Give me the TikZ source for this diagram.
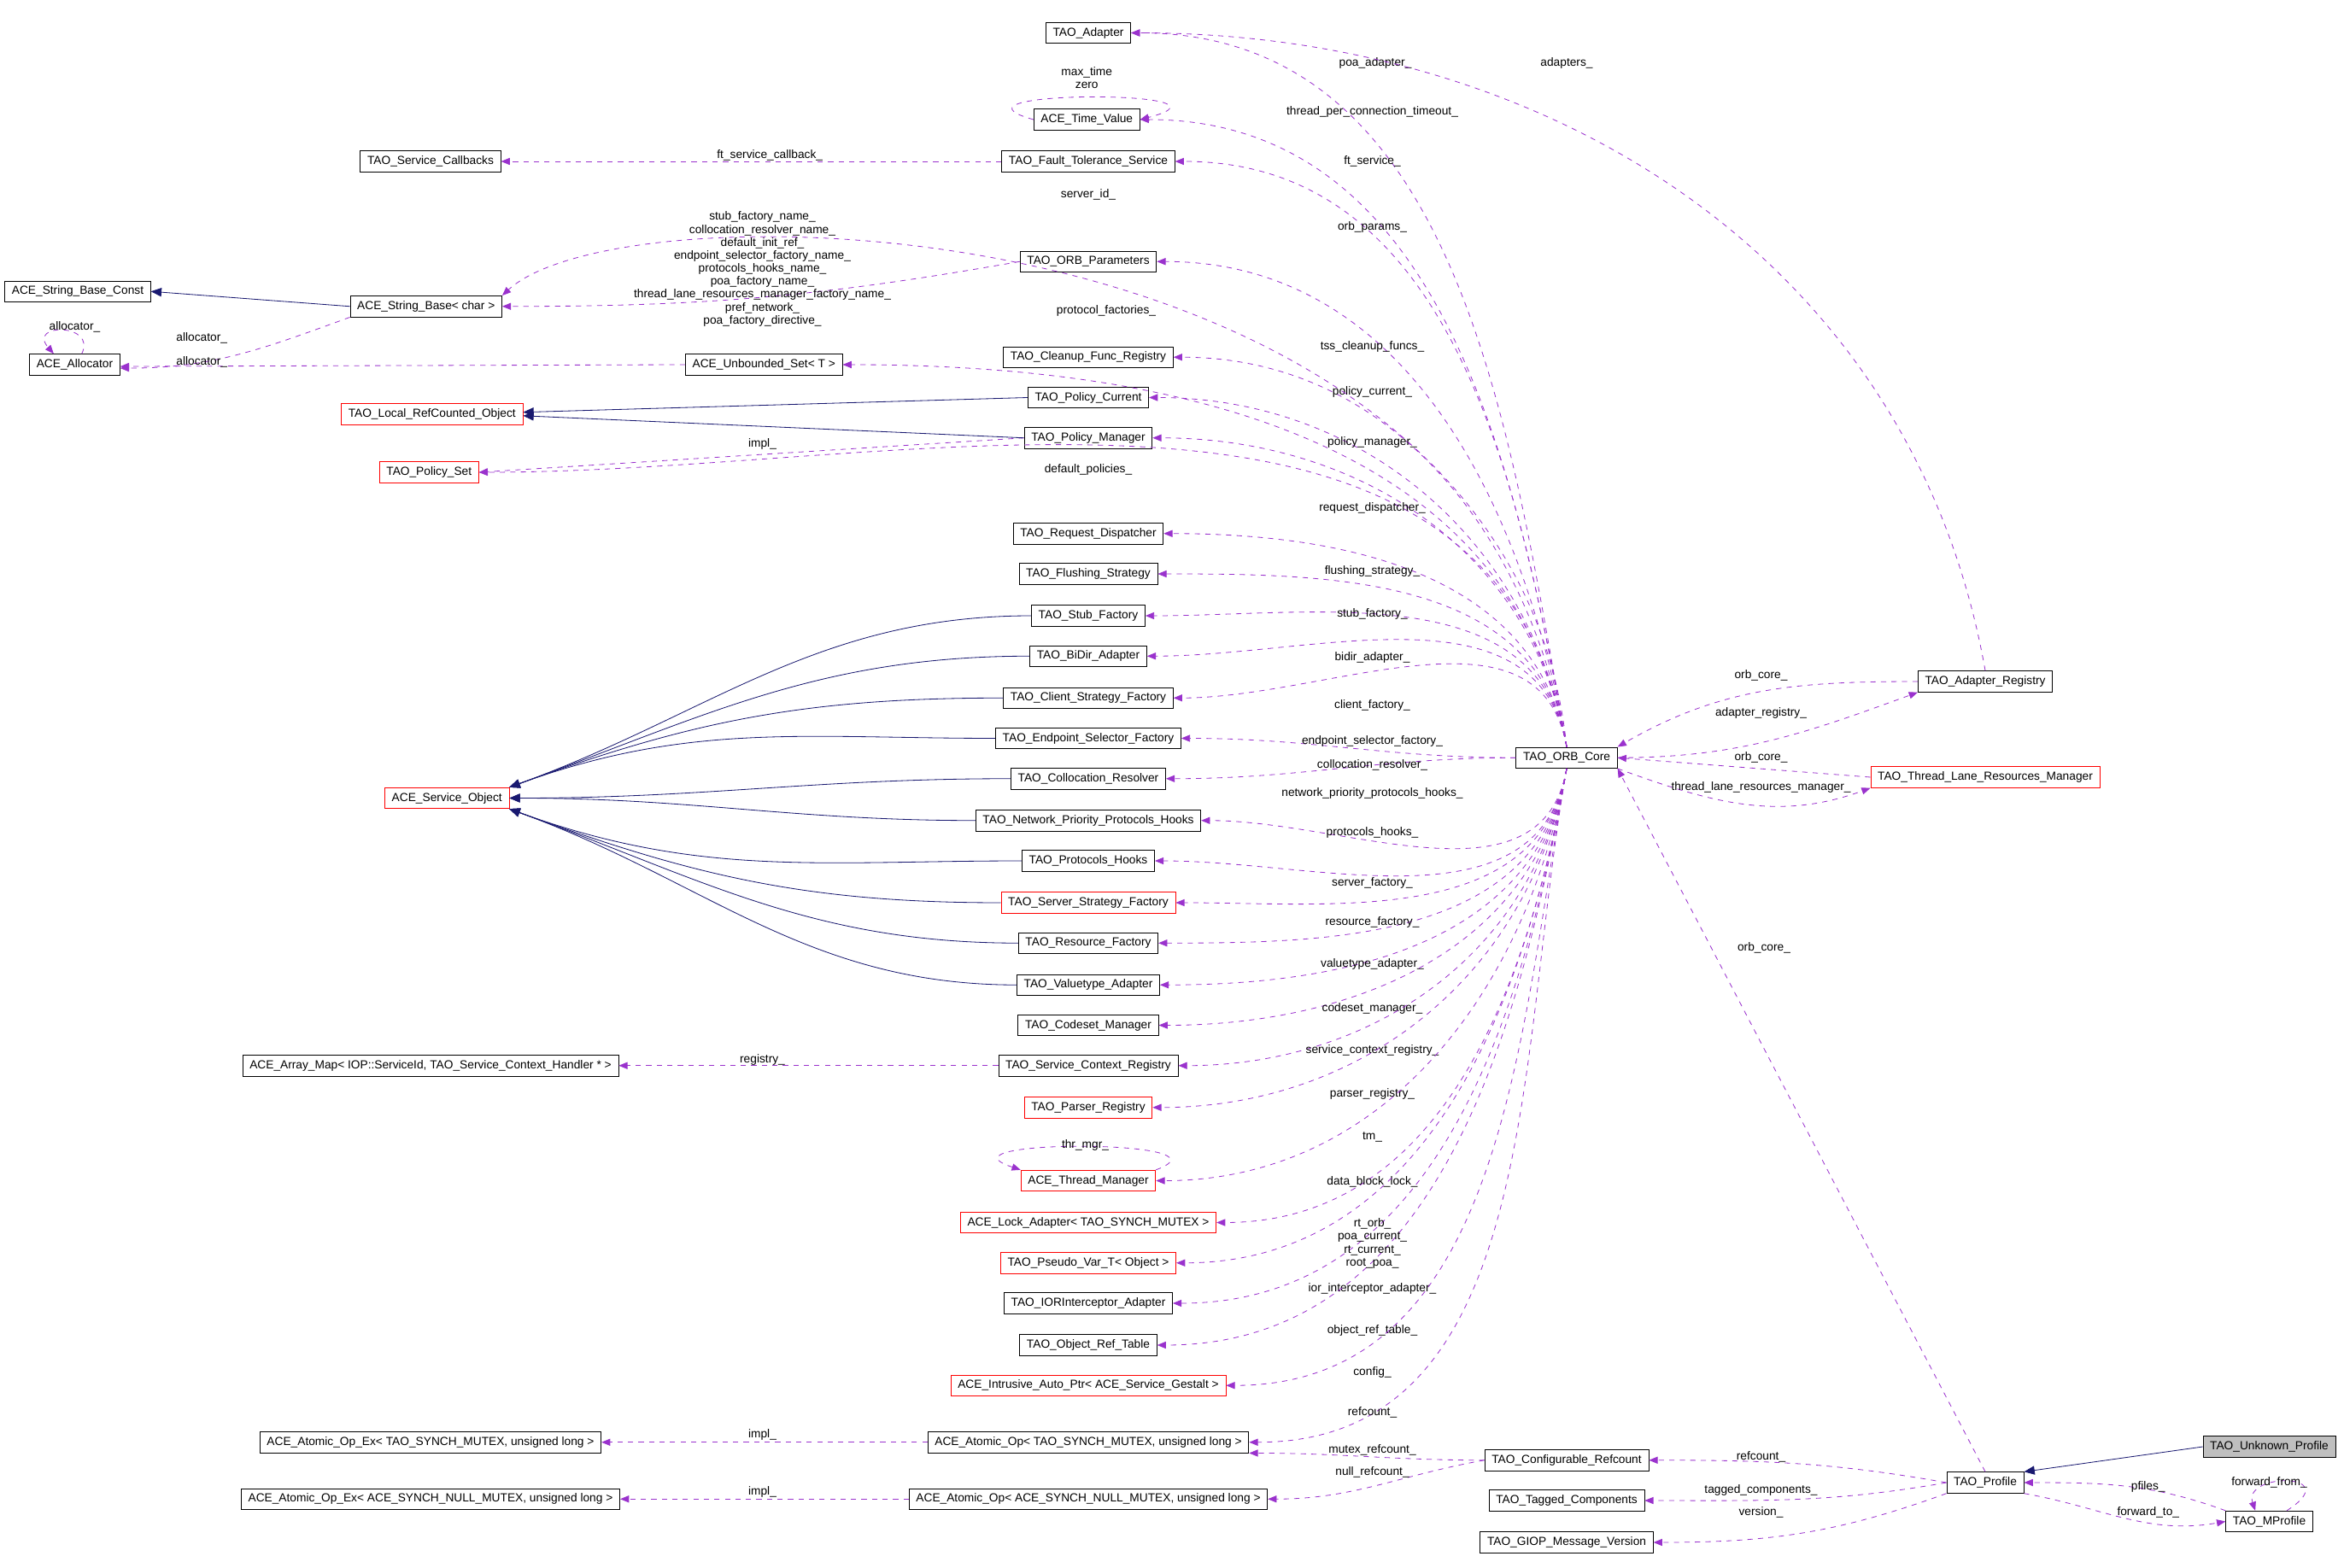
\documentclass[tikz,border=0pt]{standalone}
\usepackage{fontspec}
\setmainfont{Liberation Sans}
\usetikzlibrary{arrows.meta}
\definecolor{collpurple}{HTML}{9A32CD}
\definecolor{inhnavy}{HTML}{191970}
\catcode`\_=12
\tikzset{
	cls/.style={draw, font=\fontsize{6.7}{8}\selectfont, inner xsep=4pt, inner ysep=1pt, minimum height=12pt},
	redcls/.style={cls, draw=red},
	curcls/.style={cls, fill=black!25},
	lbl/.style={font=\fontsize{6.7}{7.4}\selectfont, inner sep=0.5pt, align=center},
	coll/.style={collpurple, dashed, -{Triangle[length=5pt,width=4pt]}},
	inh/.style={inhnavy, -{Triangle[length=6pt,width=5pt]}},
}
\begin{document}
\begin{tikzpicture}[x=0.03cm, y=-0.03cm]
\useasboundingbox (0,0) rectangle (1568,1049);
% classes
\node[cls] (adapter) at (728,22) {TAO_Adapter};
\node[cls] (tv) at (727,80) {ACE_Time_Value};
\node[cls] (sc) at (288,108) {TAO_Service_Callbacks};
\node[cls] (ft) at (728,108) {TAO_Fault_Tolerance_Service};
\node[cls] (op) at (728,175) {TAO_ORB_Parameters};
\node[cls] (sbc) at (52,195) {ACE_String_Base_Const};
\node[cls] (sb) at (285,205) {ACE_String_Base< char >};
\node[cls] (alloc) at (50,244) {ACE_Allocator};
\node[cls] (us) at (511,244) {ACE_Unbounded_Set< T >};
\node[cls] (cfr) at (728,239) {TAO_Cleanup_Func_Registry};
\node[redcls] (lrc) at (289,277) {TAO_Local_RefCounted_Object};
\node[cls] (pc) at (728,266) {TAO_Policy_Current};
\node[cls] (pm) at (728,293) {TAO_Policy_Manager};
\node[redcls] (ps) at (287,316) {TAO_Policy_Set};
\node[cls] (rd) at (728,357) {TAO_Request_Dispatcher};
\node[cls] (fs) at (728,384) {TAO_Flushing_Strategy};
\node[cls] (stub) at (728,412) {TAO_Stub_Factory};
\node[cls] (bidir) at (728,439) {TAO_BiDir_Adapter};
\node[cls] (csf) at (728,467) {TAO_Client_Strategy_Factory};
\node[cls] (esf) at (728,494) {TAO_Endpoint_Selector_Factory};
\node[redcls] (so) at (299,534) {ACE_Service_Object};
\node[cls] (cres) at (728,521) {TAO_Collocation_Resolver};
\node[cls] (nph) at (728,549) {TAO_Network_Priority_Protocols_Hooks};
\node[cls] (ph) at (728,576) {TAO_Protocols_Hooks};
\node[redcls] (ssf) at (728,604) {TAO_Server_Strategy_Factory};
\node[cls] (rf) at (728,631) {TAO_Resource_Factory};
\node[cls] (va) at (728,659) {TAO_Valuetype_Adapter};
\node[cls] (cm) at (728,686) {TAO_Codeset_Manager};
\node[cls] (am) at (288,713) {ACE_Array_Map< IOP::ServiceId, TAO_Service_Context_Handler * >};
\node[cls] (scr) at (728,713) {TAO_Service_Context_Registry};
\node[redcls] (preg) at (728,741) {TAO_Parser_Registry};
\node[redcls] (tman) at (728,790) {ACE_Thread_Manager};
\node[redcls] (la) at (728,818) {ACE_Lock_Adapter< TAO_SYNCH_MUTEX >};
\node[redcls] (pv) at (728,845) {TAO_Pseudo_Var_T< Object >};
\node[cls] (iora) at (728,872) {TAO_IORInterceptor_Adapter};
\node[cls] (ort) at (728,900) {TAO_Object_Ref_Table};
\node[redcls] (iap) at (728,927) {ACE_Intrusive_Auto_Ptr< ACE_Service_Gestalt >};
\node[cls] (aoe1) at (288,965) {ACE_Atomic_Op_Ex< TAO_SYNCH_MUTEX, unsigned long >};
\node[cls] (ato) at (728,965) {ACE_Atomic_Op< TAO_SYNCH_MUTEX, unsigned long >};
\node[cls] (aoe2) at (288,1003) {ACE_Atomic_Op_Ex< ACE_SYNCH_NULL_MUTEX, unsigned long >};
\node[cls] (ano) at (728,1003) {ACE_Atomic_Op< ACE_SYNCH_NULL_MUTEX, unsigned long >};
\node[cls] (core) at (1048,507) {TAO_ORB_Core};
\node[cls] (areg) at (1328,456) {TAO_Adapter_Registry};
\node[redcls] (tlrm) at (1328,520) {TAO_Thread_Lane_Resources_Manager};
\node[cls] (cref) at (1048,977) {TAO_Configurable_Refcount};
\node[cls] (tcomp) at (1048,1004) {TAO_Tagged_Components};
\node[cls] (gmv) at (1048,1032) {TAO_GIOP_Message_Version};
\node[cls] (prof) at (1328,992) {TAO_Profile};
\node[curcls] (uprof) at (1518,968) {TAO_Unknown_Profile};
\node[cls] (mprof) at (1518,1018) {TAO_MProfile};

% members of the ORB core, above it
\foreach \t/\l/\lx/\ly in {adapter/poa_adapter_/920/42, tv/thread_per_connection_timeout_/918/75,
	ft/ft_service_/918/108, op/orb_params_/918/152, us/protocol_factories_/740/208,
	cfr/tss_cleanup_funcs_/918/232, pc/policy_current_/918/262, pm/policy_manager_/918/296,
	ps/default_policies_/728/314, rd/request_dispatcher_/918/340, fs/flushing_strategy_/918/382,
	stub/stub_factory_/918/411, bidir/bidir_adapter_/918/440, csf/client_factory_/918/472}{
	\draw[coll] (core.north) to[out=100,in=0] (\t.east);
	\node[lbl] at (\lx,\ly) {\l};
}
\draw[coll] (core.north) .. controls (1010,135) and (420,120) .. (sb.north east);
\node[lbl] at (728,130) {server_id_};
% members beside it
\foreach \t/\l/\lx/\ly in {esf/endpoint_selector_factory_/918/496, cres/collocation_resolver_/918/512}{
	\draw[coll] (core.west) to[out=180,in=0] (\t.east);
	\node[lbl] at (\lx,\ly) {\l};
}
% members below it
\foreach \t/\l/\lx/\ly in {nph/network_priority_protocols_hooks_/918/531, ph/protocols_hooks_/918/557,
	ssf/server_factory_/918/591, rf/resource_factory_/918/617, va/valuetype_adapter_/918/645,
	cm/codeset_manager_/918/675, scr/service_context_registry_/918/703, preg/parser_registry_/918/732,
	tman/tm_/918/761, la/data_block_lock_/918/791, iora/ior_interceptor_adapter_/918/862,
	ort/object_ref_table_/918/890, iap/config_/918/918, ato/refcount_/918/945}{
	\draw[coll] (core.south) to[out=260,in=0] (\t.east);
	\node[lbl] at (\lx,\ly) {\l};
}
\draw[coll] (core.south) to[out=260,in=0] (pv.east);
\node[lbl] at (918,832) {rt_orb_\\poa_current_\\rt_current_\\root_poa_};

% other members
\draw[coll] (areg.north) to[out=100,in=0] (adapter.east);
\node[lbl] at (1048,42) {adapters_};
\draw[coll] (tv.west) .. controls (620,60) and (840,60) .. (tv.east);
\node[lbl] at (727,52) {max_time\\zero};
\draw[coll] (ft) -- (sc);
\node[lbl] at (515,104) {ft_service_callback_};
\draw[coll] (op.west) to[out=190,in=0] (sb.east);
\node[lbl] at (510,180) {stub_factory_name_\\collocation_resolver_name_\\default_init_ref_\\endpoint_selector_factory_name_\\protocols_hooks_name_\\poa_factory_name_\\thread_lane_resources_manager_factory_name_\\pref_network_\\poa_factory_directive_};
\draw[coll] (sb.south west) to[out=200,in=0] ([yshift=-2pt]alloc.east);
\node[lbl] at (135,226) {allocator_};
\draw[coll] (us.west) -- ([yshift=-1pt]alloc.east);
\node[lbl] at (135,242) {allocator_};
\draw[coll] ([xshift=4pt]alloc.north) .. controls (65,216) and (18,216) .. ([xshift=-12pt]alloc.north);
\node[lbl] at (50,219) {allocator_};
\draw[coll] (pm.west) -- (ps.east);
\node[lbl] at (510,297) {impl_};
\draw[coll] (scr) -- (am);
\node[lbl] at (510,709) {registry_};
\draw[coll] (tman.north east) .. controls (830,762) and (620,762) .. (tman.north west);
\node[lbl] at (726,766) {thr_mgr_};
\draw[coll] (ato) -- (aoe1);
\node[lbl] at (510,960) {impl_};
\draw[coll] (ano) -- (aoe2);
\node[lbl] at (510,998) {impl_};
\draw[coll] (cref.west) to[out=180,in=0] (ato.south east);
\node[lbl] at (918,970) {mutex_refcount_};
\draw[coll] (cref.west) to[out=190,in=0] (ano.east);
\node[lbl] at (918,985) {null_refcount_};
\draw[coll] (core.east) to[out=0,in=200] (areg.south west);
\node[lbl] at (1178,477) {adapter_registry_};
\draw[coll] (areg.west) to[out=180,in=30] (core.north east);
\node[lbl] at (1178,452) {orb_core_};
\draw[coll] (tlrm.west) -- (core.east);
\node[lbl] at (1178,507) {orb_core_};
\draw[coll] (core.south east) to[out=-20,in=200] (tlrm.south west);
\node[lbl] at (1178,527) {thread_lane_resources_manager_};
\draw[coll] (prof.north) -- (core.south east);
\node[lbl] at (1180,634) {orb_core_};
\draw[coll] (prof.west) to[out=170,in=0] (cref.east);
\node[lbl] at (1178,975) {refcount_};
\draw[coll] (prof.west) to[out=190,in=0] (tcomp.east);
\node[lbl] at (1178,997) {tagged_components_};
\draw[coll] (prof.south west) to[out=200,in=0] (gmv.east);
\node[lbl] at (1178,1012) {version_};
\draw[coll] (prof.south east) to[out=-10,in=190] (mprof.west);
\node[lbl] at (1437,1012) {forward_to_};
\draw[coll] (mprof.north west) to[out=160,in=0] (prof.east);
\node[lbl] at (1437,995) {pfiles_};
\draw[coll] ([xshift=10pt]mprof.north) .. controls (1570,985) and (1500,985) .. ([xshift=-8pt]mprof.north);
\node[lbl] at (1518,992) {forward_from_};

% inheritance
\draw[inh] (sb.west) -- (sbc.east);
\draw[inh] (pc.west) -- ([yshift=1pt]lrc.east);
\draw[inh] (pm.west) -- ([yshift=-1pt]lrc.east);
\foreach \t in {stub,bidir,csf,esf}{
	\draw[inh] (\t.west) to[out=180,in=20] (so.north east);
}
\foreach \t in {cres,nph}{
	\draw[inh] (\t.west) to[out=180,in=0] (so.east);
}
\foreach \t in {ph,ssf,rf,va}{
	\draw[inh] (\t.west) to[out=180,in=-20] (so.south east);
}
\draw[inh] (uprof.west) -- (prof.north east);
\end{tikzpicture}
\end{document}
